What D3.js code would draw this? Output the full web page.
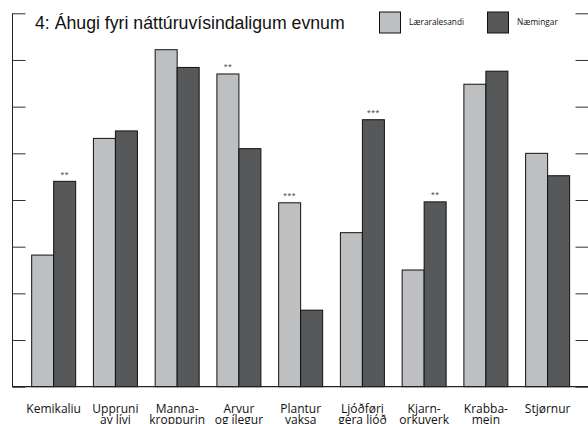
<!doctype html>
<html>
<head>
<meta charset="UTF-8" />
<script src="https://cdnjs.cloudflare.com/ajax/libs/d3/7.8.5/d3.min.js"></script>
<style>
  html, body { margin: 0; padding: 0; background: #fff; }
  svg { display: block; }
</style>
</head>
<body>
<svg id="chart"></svg>
<script>
(function () {
  "use strict";

  // categories (two-line labels) and the two series
  const categories = ["Kemikaliu", "Uppruni|av lívi", "Manna-|kroppurin", "Arvur|og ílegur", "Plantur|vaksa",
    "Ljóðføri|gera ljóð", "Kjarn-|orkuverk", "Krabba-|mein", "Stjørnur"];
  const seriesNames = ["Læraralesandi", "Næmingar"];
  const teachers = [14.1, 26.6, 36.1, 33.5, 19.7, 16.5, 12.5, 32.4, 25.0];
  const students = [22.0, 27.4, 34.2, 25.5, 8.2, 28.6, 19.8, 33.8, 22.6];
  // significance marks and which bar they sit on (0 = teachers, 1 = students)
  const marks = ["**", "", "", "**", "***", "***", "**", "", ""];
  const markBar = [1, 0, 0, 0, 0, 1, 1, 0, 0];
  const yTicks = [0, 5, 10, 15, 20, 25, 30, 35, 40];

  const colors = ["#bebfc1", "#57585a"];
  const W = 588, H = 424;

  const svg = d3.select("#chart").attr("width", W).attr("height", H);

  const y = d3.scaleLinear().domain([0, 40]).range([386.7, 13.3]);
  const x = d3.scaleBand().domain(d3.range(categories.length)).range([22.8, 578.5]).paddingInner(0).paddingOuter(0);
  const groupW = 44;
  const xs = d3.scaleBand().domain([0, 1]).range([0, groupW]);
  const off = (x.bandwidth() - groupW) / 2;

  const rows = categories.map((c, i) => ({ i, vals: [teachers[i], students[i]] }));

  // bars
  const g = svg.append("g");
  const grp = g.selectAll("g.grp").data(rows).enter().append("g")
    .attr("class", "grp")
    .attr("transform", d => `translate(${x(d.i) + off},0)`);
  grp.selectAll("rect").data(d => d.vals.map((v, k) => ({ v, k }))).enter().append("rect")
    .attr("x", d => xs(d.k))
    .attr("width", xs.bandwidth())
    .attr("y", d => y(d.v))
    .attr("height", d => y(0) - y(d.v))
    .attr("fill", d => colors[d.k])
    .attr("stroke", "#111")
    .attr("stroke-width", 1);

  // significance marks
  grp.filter(d => marks[d.i] !== "").append("text")
    .attr("x", d => xs(markBar[d.i]) + xs.bandwidth() / 2)
    .attr("y", d => y(d.vals[markBar[d.i]]) - 3.5)
    .attr("text-anchor", "middle")
    .attr("font-family", "Liberation Sans, Arial, sans-serif")
    .attr("font-size", 9.5)
    .attr("letter-spacing", 0.5)
    .attr("fill", "#555")
    .text(d => marks[d.i]);

  // left axis
  const axL = svg.append("g").attr("transform", "translate(12.5,0)")
    .call(d3.axisRight(y).tickValues(yTicks).tickSize(13).tickFormat(""));
  axL.select(".domain").attr("d", `M0,${y(40)}V${y(0)}`).attr("stroke", "#222");
  axL.selectAll(".tick line").attr("stroke", "#333");

  // right ticks only
  const axR = svg.append("g").attr("transform", "translate(575.5,0)")
    .call(d3.axisRight(y).tickValues(yTicks).tickSize(13).tickFormat(""));
  axR.select(".domain").remove();
  axR.selectAll(".tick line").attr("stroke", "#333");

  // baseline
  svg.append("line").attr("x1", 12).attr("x2", W).attr("y1", y(0)).attr("y2", y(0))
    .attr("stroke", "#222").attr("stroke-width", 1.3);

  // category labels
  const lab = svg.append("g").selectAll("text").data(categories).enter().append("text")
    .attr("text-anchor", "middle")
    .attr("font-family", "Open Sans, sans-serif")
    .attr("font-size", 12)
    .attr("fill", "#111")
    .attr("transform", (d, i) => `translate(${x(i) + x.bandwidth() / 2},412.5)`);
  lab.selectAll("tspan").data(d => d.split("|")).enter().append("tspan")
    .attr("x", 0)
    .attr("dy", (d, k) => k === 0 ? 0 : 11.5)
    .text(d => d);

  // title
  svg.append("text")
    .attr("x", 35).attr("y", 28.5)
    .attr("font-family", "Liberation Sans, Arial, sans-serif")
    .attr("font-size", 17.7)
    .attr("fill", "#111")
    .text("4: Áhugi fyri náttúruvísindaligum evnum");

  // legend
  const legX = [379.5, 487.5];
  const leg = svg.append("g").selectAll("g").data(seriesNames).enter().append("g")
    .attr("transform", (d, i) => `translate(${legX[i]},12)`);
  leg.append("rect").attr("width", 21).attr("height", 21)
    .attr("fill", (d, i) => colors[i]).attr("stroke", "#111").attr("stroke-width", 1);
  leg.append("text").attr("x", 29.5).attr("y", 12.5)
    .attr("font-family", "Open Sans, sans-serif")
    .attr("font-size", 8.3)
    .attr("fill", "#111")
    .text(d => d);
})();
</script>
</body>
</html>
